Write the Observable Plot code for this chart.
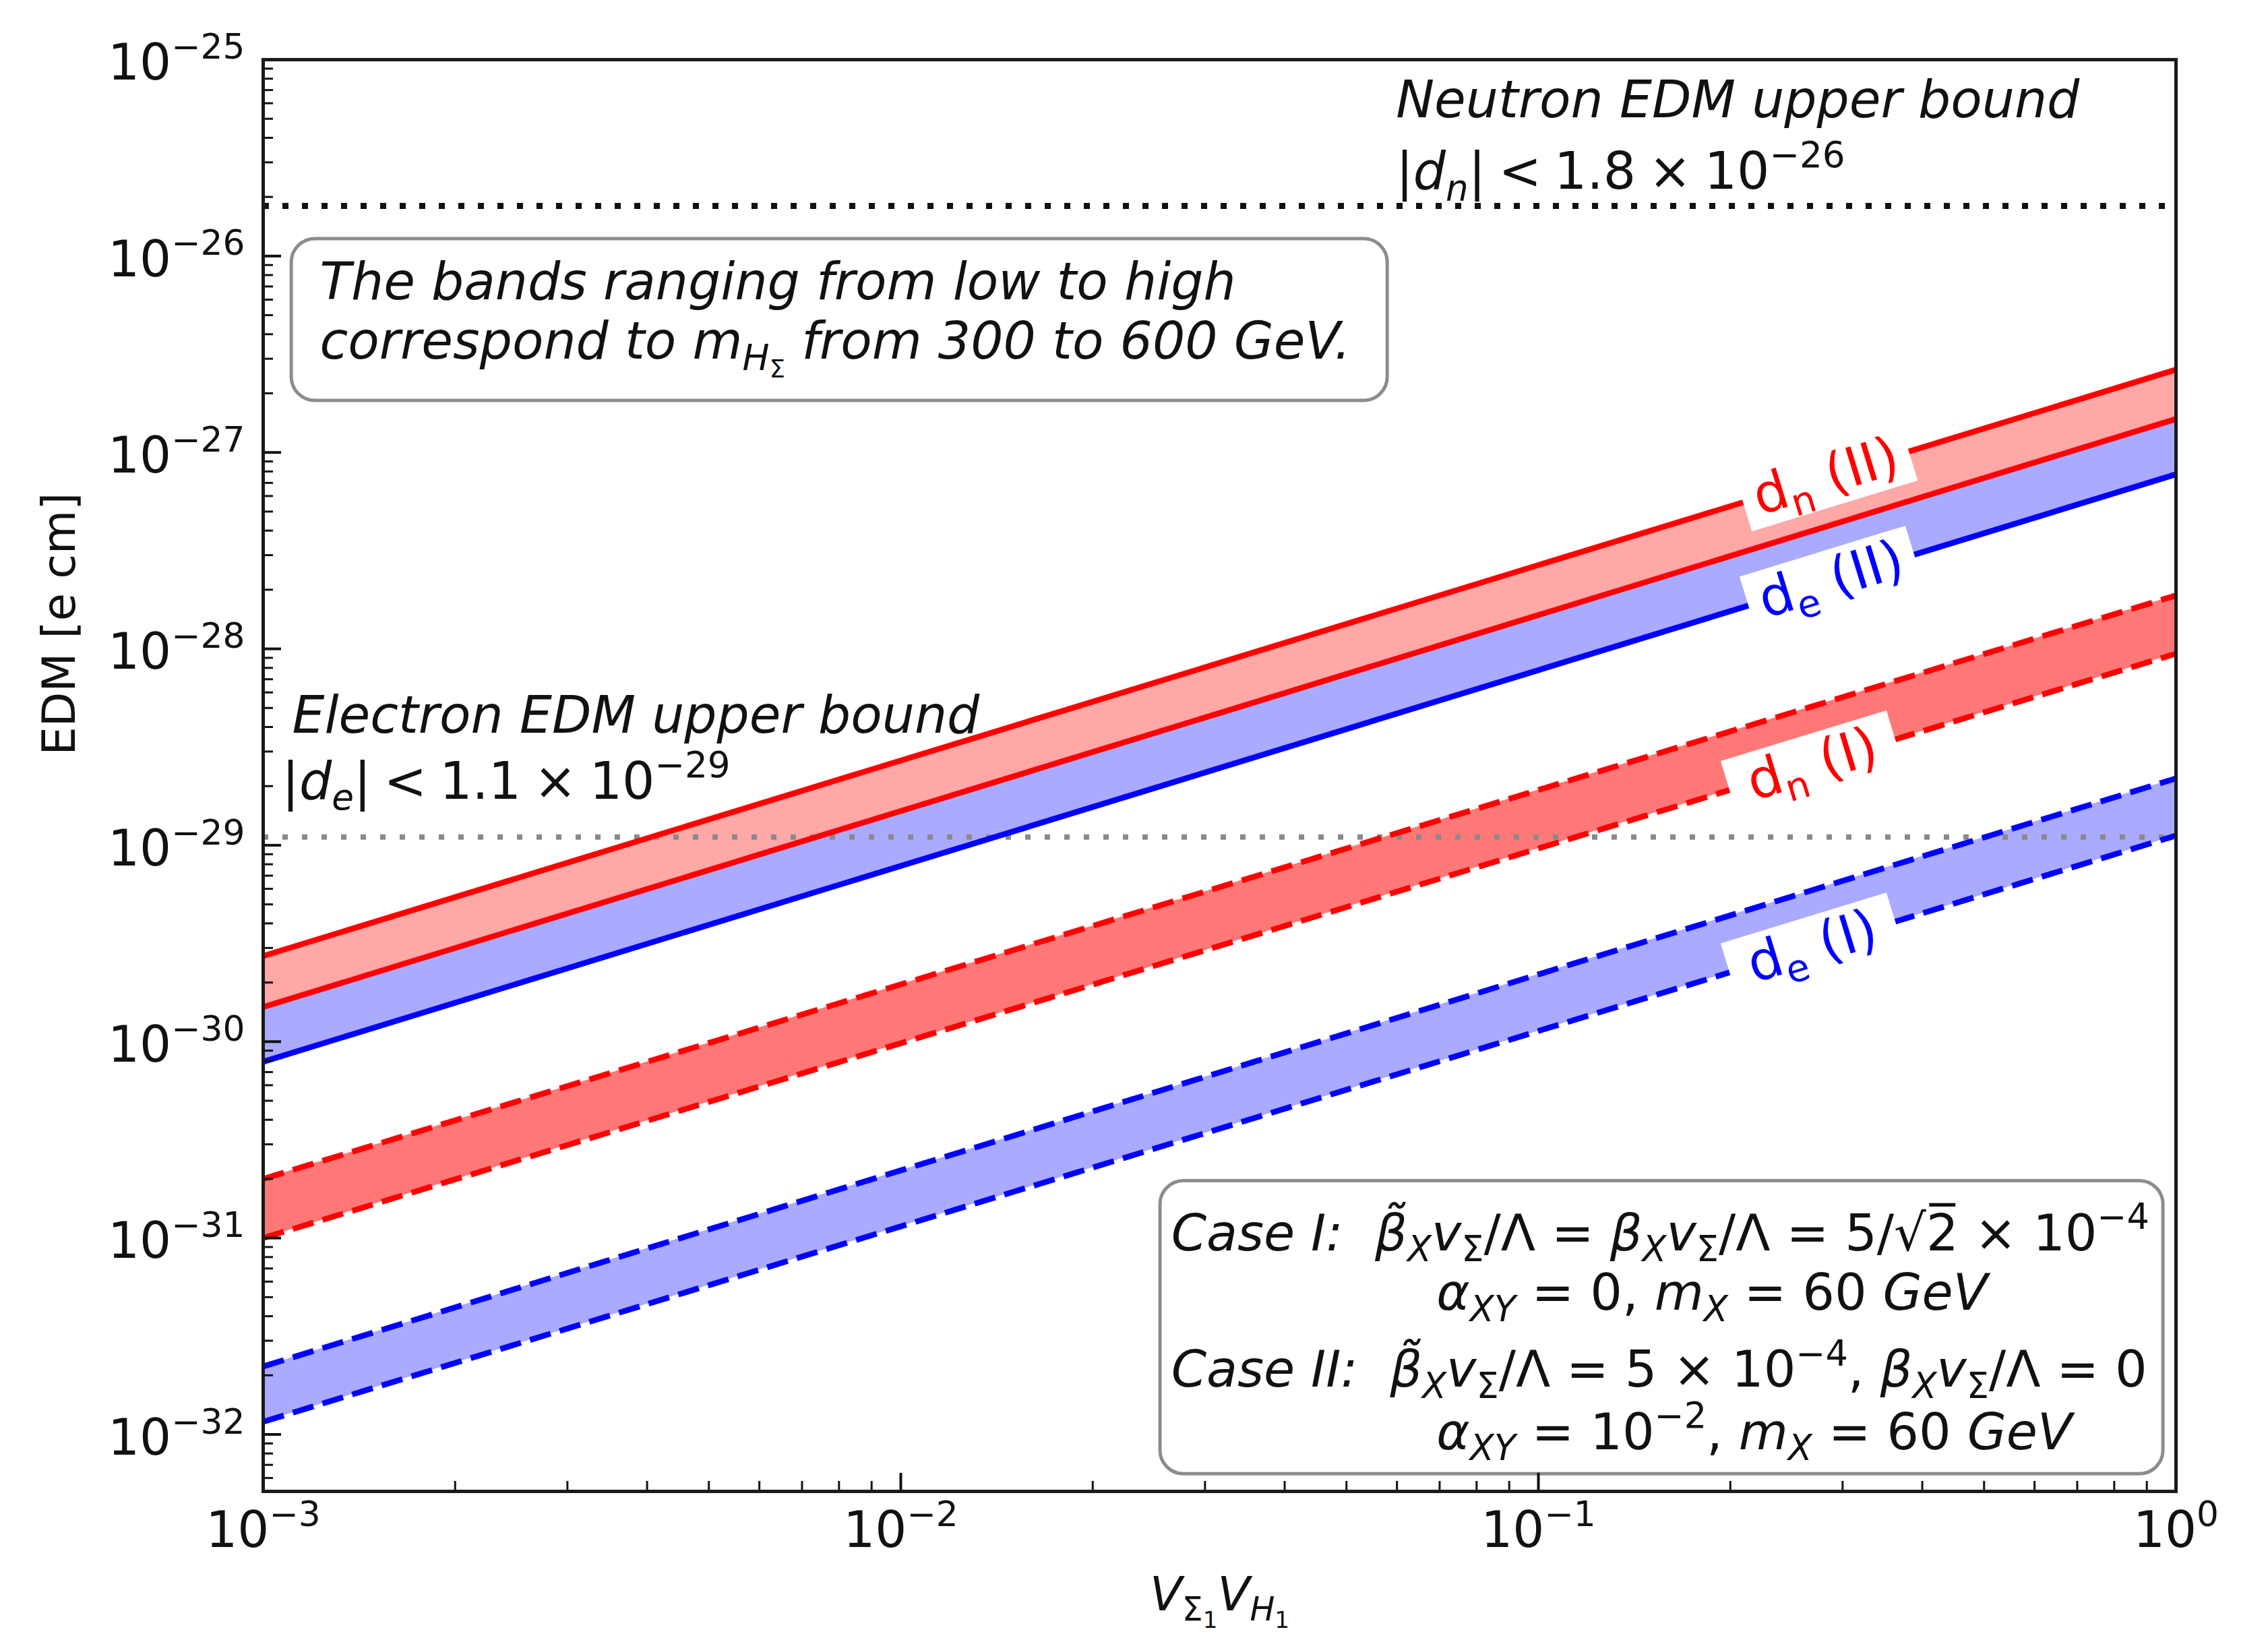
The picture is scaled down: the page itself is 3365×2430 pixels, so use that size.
<!DOCTYPE html>
<html><head><meta charset="utf-8">
<script src="https://cdn.jsdelivr.net/npm/d3@7"></script>
<script src="https://cdn.jsdelivr.net/npm/@observablehq/plot@0.6"></script>
<style>html,body{margin:0;padding:0;background:#fff}</style>
</head><body><div id="chart"></div>
<script>
// ---------------- data ----------------
const xEnds = [1e-3, 1];                 // V_Σ1 V_H1 at the two ends of each straight band edge
const dnII_hi = [2.73e-30, 2.64e-27];    // d_n (II) upper edge (solid red)
const dnII_lo = [1.50e-30, 1.48e-27];    // d_n (II) lower edge (solid red)
const deII_hi = [1.50e-30, 1.48e-27];    // d_e (II) upper edge
const deII_lo = [7.90e-31, 7.74e-28];    // d_e (II) lower edge (solid blue)
const dnI_hi  = [2.00e-31, 1.87e-28];    // d_n (I) upper edge (dashed red)
const dnI_lo  = [1.00e-31, 9.45e-29];    // d_n (I) lower edge (dashed red)
const deI_hi  = [2.22e-32, 2.19e-29];    // d_e (I) upper edge (dashed blue)
const deI_lo  = [1.16e-32, 1.12e-29];    // d_e (I) lower edge (dashed blue)
const neutronBound = 1.8e-26;
const electronBound = 1.1e-29;

const labelNames = ["d_{n} (II)", "d_{e} (II)", "d_{n} (I)", "d_{e} (I)"];
const labelX = [0.2825, 0.288, 0.269, 0.269];

const xMajor = [1e-3, 1e-2, 1e-1, 1];
const yMajor = [1e-32, 1e-31, 1e-30, 1e-29, 1e-28, 1e-27, 1e-26, 1e-25];

const xLabel = "V_{~{Σ}_{~{1}}}V_{H_{~{1}}}";
const yLabel = "EDM [e cm]";

const neutronLines = ["Neutron EDM upper bound", "~{|}d_{n}~{|\u2005<\u20051.8\u2005×\u200510^{−26}}"];
const electronLines = ["Electron EDM upper bound", "~{|}d_{e}~{|\u2005<\u20051.1\u2005×\u200510^{−29}}"];
const bandNoteLines = ["The bands ranging from low to high", "correspond to m_{H_{~{Σ}}} from 300 to 600 GeV."];
const caseLines = [
  "Case I:  β\u0303_{X}v_{~{Σ}}~{/Λ = }β_{X}v_{~{Σ}}~{/Λ = 5/√2\u0305 × 10^{−4}}",
  "α_{XY}~{ = 0, }m_{X}~{ = 60 }GeV",
  "Case II:  β\u0303_{X}v_{~{Σ}}~{/Λ = 5 × 10^{−4}, }β_{X}v_{~{Σ}}~{/Λ = 0}",
  "α_{XY}~{ = 10^{−2}, }m_{X}~{ = 60 }GeV"
];

// ---------------- layout ----------------
const W = 3365, H = 2430;
const mL = 390, mR = 137, mT = 88, mB = 218;
const plotW = W - mL - mR, plotH = H - mT - mB;
const xDomain = [1e-3, 1];
const yDomain = [10 ** -32.29, 1e-25];
const pxDecX = plotW / Math.log10(xDomain[1] / xDomain[0]);
const pxDecY = plotH / Math.log10(yDomain[1] / yDomain[0]);

// annotation anchors in data coordinates
const notes = [
  {text: neutronLines[0], x: 0.0598, y: 5.07e-26},
  {text: neutronLines[1], x: 0.0598, y: 2.20e-26},
  {text: electronLines[0], x: 1.11e-3, y: 3.75e-29},
  {text: electronLines[1], x: 1.07e-3, y: 1.73e-29},
  {text: bandNoteLines[0], x: 1.227e-3, y: 6.0e-27},
  {text: bandNoteLines[1], x: 1.227e-3, y: 3.01e-27}
];
const caseNotes = [
  {text: caseLines[0], x: 0.02655, y: 8.65e-32},
  {text: caseLines[1], x: 0.0692, y: 4.31e-32},
  {text: caseLines[2], x: 0.02655, y: 1.75e-32},
  {text: caseLines[3], x: 0.0692, y: 8.41e-33}
];
const boxes = [
  {x1: 1.108e-3, x2: 0.0580, y1: 1.833e-27, y2: 1.222e-26},
  {x1: 0.02553, x2: 0.955, y1: 6.28e-33, y2: 1.954e-31}
];

// ---------------- helpers ----------------
const rows = v => xEnds.map((x, i) => ({x, y: v[i]}));
const band = (lo, hi) => xEnds.map((x, i) => ({x, lo: lo[i], hi: hi[i]}));
const labelLines = [dnII_hi, deII_lo, dnI_lo, deI_lo];
const labelColors = ["#ff0000", "#0000ff", "#ff0000", "#0000ff"];
function lineAt(v, x) {
  const s = Math.log10(v[1] / v[0]) / Math.log10(xEnds[1] / xEnds[0]);
  return v[0] * Math.pow(x / xEnds[0], s);
}
const halfGap = 0.13; // decades
const labels = labelNames.map((t, i) => {
  const v = labelLines[i];
  const s = Math.log10(v[1] / v[0]) / Math.log10(xEnds[1] / xEnds[0]);
  const xa = labelX[i] / 10 ** halfGap, xb = labelX[i] * 10 ** halfGap;
  return {
    text: t, x: labelX[i], y: lineAt(v, labelX[i]),
    xa, ya: lineAt(v, xa), xb, yb: lineAt(v, xb),
    angle: -Math.atan(s * pxDecY / pxDecX) * 180 / Math.PI,
    color: labelColors[i]
  };
});

const minor = (lo, hi) => {
  const out = [];
  for (let e = Math.floor(Math.log10(lo)); e <= Math.ceil(Math.log10(hi)); e++)
    for (let k = 2; k <= 9; k++) { const v = k * 10 ** e; if (v > lo && v < hi) out.push(v); }
  return out;
};
const xMinor = minor(xDomain[0], xDomain[1]);
const yMinor = minor(yDomain[0], yDomain[1]);
const fmt = d => "10^{" + String(Math.round(Math.log10(d))).replace("-", "−") + "}";

const ink = "#111";
const solidW = 8.5, dashW = 8.5, dash = "32,14";

const chart = Plot.plot({
  width: W, height: H,
  marginLeft: mL, marginRight: mR, marginTop: mT, marginBottom: mB,
  style: {fontFamily: "DejaVu Sans", fontSize: "74px", background: "white", color: ink},
  x: {type: "log", domain: xDomain},
  y: {type: "log", domain: yDomain},
  marks: [
    // bands
    Plot.areaY(band(dnII_lo, dnII_hi), {x: "x", y1: "lo", y2: "hi", fill: "#ffa8a8"}),
    Plot.areaY(band(deII_lo, deII_hi), {x: "x", y1: "lo", y2: "hi", fill: "#aaaaff"}),
    Plot.areaY(band(dnI_lo, dnI_hi), {x: "x", y1: "lo", y2: "hi", fill: "#ff7878"}),
    Plot.areaY(band(deI_lo, deI_hi), {x: "x", y1: "lo", y2: "hi", fill: "#aaaaff"}),
    // bounds
    Plot.ruleY([neutronBound], {stroke: ink, strokeWidth: 9, strokeDasharray: "9,20"}),
    Plot.ruleY([electronBound], {stroke: "#8a8a8a", strokeWidth: 8, strokeDasharray: "8,21"}),
    // edges
    Plot.line(rows(deII_lo), {x: "x", y: "y", stroke: "#0000ff", strokeWidth: solidW, strokeLinecap: "butt"}),
    Plot.line(rows(dnII_lo), {x: "x", y: "y", stroke: "#ff0000", strokeWidth: solidW, strokeLinecap: "butt"}),
    Plot.line(rows(dnII_hi), {x: "x", y: "y", stroke: "#ff0000", strokeWidth: solidW, strokeLinecap: "butt"}),
    Plot.line(rows(dnI_hi), {x: "x", y: "y", stroke: "#ff0000", strokeWidth: dashW, strokeDasharray: dash, strokeLinecap: "butt"}),
    Plot.line(rows(dnI_lo), {x: "x", y: "y", stroke: "#ff0000", strokeWidth: dashW, strokeDasharray: dash, strokeLinecap: "butt"}),
    Plot.line(rows(deI_hi), {x: "x", y: "y", stroke: "#0000ff", strokeWidth: dashW, strokeDasharray: dash, strokeLinecap: "butt"}),
    Plot.line(rows(deI_lo), {x: "x", y: "y", stroke: "#0000ff", strokeWidth: dashW, strokeDasharray: dash, strokeLinecap: "butt"}),
    // inline labels with white backgrounds
    Plot.link(labels, {x1: "xa", y1: "ya", x2: "xb", y2: "yb", stroke: "white", strokeWidth: 90, strokeLinecap: "butt"}),
    Plot.text(labels, {x: "x", y: "y", text: "text", rotate: "angle", fill: d => d.color, fontSize: 80, lineAnchor: "middle"}),
    // boxes and notes
    Plot.rect(boxes, {x1: "x1", x2: "x2", y1: "y1", y2: "y2", fill: "white", stroke: "#8c8c8c", strokeWidth: 5, rx: 35, ry: 35}),
    Plot.text(notes, {x: "x", y: "y", text: "text", textAnchor: "start", lineAnchor: "bottom", fontSize: 76, fontStyle: "italic", fill: ink}),
    Plot.text(caseNotes, {x: "x", y: "y", text: "text", textAnchor: "start", lineAnchor: "bottom", fontSize: 75, fontStyle: "italic", fill: ink}),
    // ticks (inward)
    Plot.tickY(yMajor, {y: d => d, insetRight: plotW - 27, stroke: ink, strokeWidth: 4}),
    Plot.tickY(yMinor, {y: d => d, insetRight: plotW - 15, stroke: ink, strokeWidth: 3}),
    Plot.tickX(xMajor, {x: d => d, insetTop: plotH - 27, stroke: ink, strokeWidth: 4}),
    Plot.tickX(xMinor, {x: d => d, insetTop: plotH - 15, stroke: ink, strokeWidth: 3}),
    // axes labels
    Plot.axisY({ticks: yMajor, tickSize: 0, tickPadding: 27, tickFormat: fmt, fontSize: 74, dy: 6, label: null}),
    Plot.axisX({ticks: xMajor, tickSize: 0, tickPadding: 30, tickFormat: fmt, fontSize: 74, label: null}),
    Plot.text([yLabel], {text: d => d, frameAnchor: "left", dx: -301, dy: -30, rotate: -90, fontSize: 67, fill: ink}),
    Plot.text([xLabel], {text: d => d, frameAnchor: "bottom", dy: 176, lineAnchor: "bottom", fontSize: 70, fontStyle: "italic", fill: ink}),
    Plot.frame({stroke: "#1a1a1a", strokeWidth: 5})
  ]
});
document.getElementById("chart").appendChild(chart);

// ---------------- rich text: _{sub} ^{sup} ~{upright} ----------------
function parseRich(s) {
  const segs = [];
  let i = 0;
  function run(scale, shift, upright) {
    let buf = "";
    const flush = () => { if (buf) { segs.push({t: buf, scale, shift, upright}); buf = ""; } };
    while (i < s.length) {
      const c = s[i];
      if ((c === "_" || c === "^" || c === "~") && s[i + 1] === "{") {
        flush(); i += 2;
        if (c === "_") run(scale * 0.7, shift + 0.22 * scale, upright);
        else if (c === "^") run(scale * 0.7, shift - 0.42 * scale, upright);
        else run(scale, shift, true);
      } else if (c === "}") { flush(); i++; return; }
      else { buf += c; i++; }
    }
    flush();
  }
  run(1, 0, false);
  return segs;
}
chart.querySelectorAll("text, tspan").forEach(el => {
  if (el.childNodes.length !== 1 || el.firstChild.nodeType !== 3) return;
  const s = el.textContent;
  if (!/[_^~]\{/.test(s)) return;
  const base = parseFloat(getComputedStyle(el).fontSize);
  const segs = parseRich(s);
  el.textContent = "";
  let cur = 0;
  for (const g of segs) {
    const t = document.createElementNS("http://www.w3.org/2000/svg", "tspan");
    t.setAttribute("font-size", (base * g.scale).toFixed(2));
    const d = (g.shift - cur) * base;
    if (Math.abs(d) > 0.01) t.setAttribute("dy", d.toFixed(2));
    cur = g.shift;
    if (g.upright) t.setAttribute("font-style", "normal");
    t.textContent = g.t;
    el.appendChild(t);
  }
});
</script></body></html>
